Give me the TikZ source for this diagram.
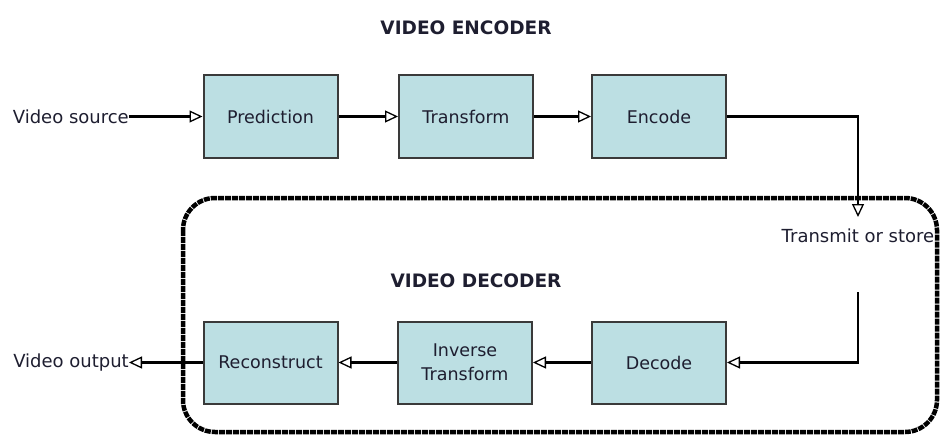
\documentclass[tikz,border=0pt]{standalone}
\usepackage{fontspec}
\setmainfont{DejaVu Sans}
\usetikzlibrary{arrows.meta,positioning}
\definecolor{boxfill}{HTML}{BCDFE3}
\definecolor{boxline}{HTML}{3A3A3A}
\definecolor{txt}{HTML}{1E1E30}

\begin{document}
\begin{tikzpicture}[x=1pt,y=-1pt]
\tikzset{ >={Triangle[open,length=13pt,width=12pt,line width=1.3pt]},
  block/.style={draw=boxline, line width=2pt, fill=boxfill, minimum width=134pt,
    minimum height=82pt, inner sep=2pt, align=center, text=txt,
    font=\fontsize{17.5}{24}\selectfont},
  lbl/.style={inner sep=0pt, text=txt, font=\fontsize{18}{20}\selectfont},
  title/.style={inner sep=0pt, text=txt, font=\fontsize{18.5}{20}\selectfont\bfseries},
  flow/.style={line width=2.5pt, ->},
  decbox/.style={line width=4.5pt, rounded corners=32pt, dash pattern=on 6pt off 1pt},
}
\useasboundingbox (0,0) rectangle (940,436);

%\draw [lightgray, dashed](0,0) grid[step=50] (940,436);

% encoder
\node [title] (enctitle) at (466,28) {VIDEO ENCODER};

\node [block] (pred) at (270.5,116.5) {Prediction};
\node [block] (trans) at (466,116.5) {Transform};
\node [block] (enc) at (659,116.5) {Encode};

\node [lbl, anchor=east] (src) at (129,116.5) {Video source};
\node [lbl, anchor=north] (tx) at (858,229) {Transmit or store};

\draw [flow] (src) -- (pred);
\draw [flow] (pred) -- (trans);
\draw [flow] (trans) -- (enc);
\draw [flow] (enc.east) -| ([yshift=12pt]tx.north);

% decoder
\draw [decbox] (183,198) rectangle (937,432);
\node [title] (dectitle) at (476,281) {VIDEO DECODER};

\node [block] (rec) at (270.5,362.5) {Reconstruct};
\node [block] (inv) at (465,362.5) {Inverse\\Transform};
\node [block] (dec) at (659,362.5) {Decode};

\node [lbl, anchor=east] (out) at (129,362.5) {Video output};
\coordinate (rx) at (858,292);

\draw [flow] (rx) |- (dec);
\draw [flow] (dec) -- (inv);
\draw [flow] (inv) -- (rec);
\draw [flow] (rec) -- (out);

\end{tikzpicture}
\end{document}
